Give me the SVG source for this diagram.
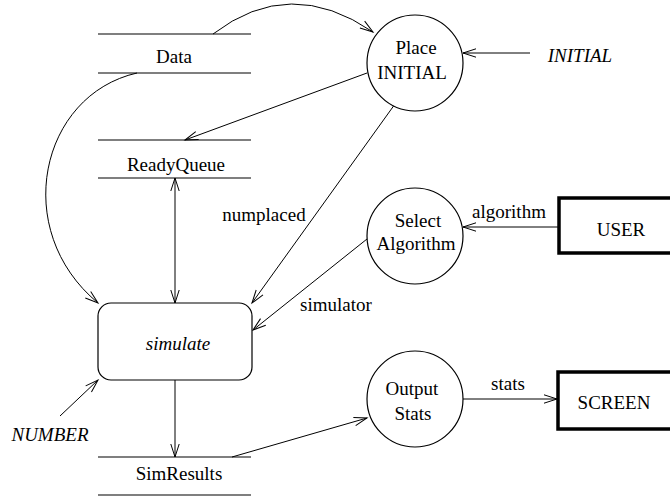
<svg xmlns="http://www.w3.org/2000/svg" width="670" height="498" viewBox="0 0 670 498">
<defs>
<marker id="arr" markerUnits="userSpaceOnUse" markerWidth="16" markerHeight="12" viewBox="-14 -6 16 12" refX="0" refY="0" orient="auto-start-reverse">
<path d="M-13,-4.2 L0,0 L-13,4.2" fill="none" stroke="#000" stroke-width="1"/>
</marker>
<style>
.t{font-family:"Liberation Serif","Times New Roman",serif;font-size:19px;fill:#000;text-anchor:middle}
.i{font-style:italic}
.ln{stroke:#000;stroke-width:1.2;fill:none}
.c{stroke:#000;stroke-width:1.2;fill:#fff}
.ext{stroke:#000;stroke-width:3.5;fill:#fff}
.e{stroke:#000;stroke-width:1;fill:none;marker-end:url(#arr)}
</style>
</defs>
<rect width="670" height="498" fill="#fff"/>
<g id="connectors">
<path class="e" d="M213,34 Q290,-25 373,32"/>
<path class="e" d="M137,73 C40,95 10,230 98,303"/>
<path class="e" d="M367,73 L185,140"/>
<path class="e" d="M395,104 L252,303"/>
<path class="e" d="M175,178 L175,303" marker-start="url(#arr)"/>
<path class="e" d="M367,239 L253,330"/>
<path class="e" d="M530,53 L463,53"/>
<path class="e" d="M558,227 L463,227"/>
<path class="e" d="M60,416 L98,380"/>
<path class="e" d="M175,380 L175,457"/>
<path class="e" d="M232,457 L367,418"/>
<path class="e" d="M463,399 L557,399"/>
<text class="t" x="264" y="221">numplaced</text>
<text class="t" x="336" y="311">simulator</text>
<text class="t" x="509" y="218">algorithm</text>
<text class="t" x="508" y="390">stats</text>
</g>
<g id="data">
<line class="ln" x1="98" y1="34" x2="251" y2="34"/>
<line class="ln" x1="98" y1="73" x2="251" y2="73"/>
<text class="t" x="174" y="63">Data</text>
</g>
<g id="readyqueue">
<line class="ln" x1="98" y1="140" x2="251" y2="140"/>
<line class="ln" x1="98" y1="178" x2="251" y2="178"/>
<text class="t" x="176" y="171">ReadyQueue</text>
</g>
<g id="simresults">
<line class="ln" x1="98" y1="457" x2="251" y2="457"/>
<line class="ln" x1="98" y1="495" x2="251" y2="495"/>
<text class="t" x="179" y="480">SimResults</text>
</g>
<g id="simulate">
<rect class="c" x="98" y="303" width="154" height="77" rx="13" ry="13"/>
<text class="t i" x="178" y="350">simulate</text>
</g>
<g id="place">
<circle class="c" cx="415" cy="63" r="48"/>
<text class="t" x="416" y="54">Place</text>
<text class="t" x="412" y="79">INITIAL</text>
</g>
<g id="select">
<circle class="c" cx="415" cy="236" r="48"/>
<text class="t" x="418" y="227">Select</text>
<text class="t" x="416" y="250">Algorithm</text>
</g>
<g id="output">
<circle class="c" cx="415" cy="399" r="48"/>
<text class="t" x="412" y="395">Output</text>
<text class="t" x="413" y="420">Stats</text>
</g>
<g id="user">
<rect class="ext" x="559" y="198" width="115" height="55"/>
<text class="t" x="621" y="236">USER</text>
</g>
<g id="screen">
<rect class="ext" x="558" y="372" width="116" height="57"/>
<text class="t" x="614" y="409">SCREEN</text>
</g>
<g id="initial">
<text class="t i" x="580" y="62">INITIAL</text>
</g>
<g id="number">
<text class="t i" x="50" y="441">NUMBER</text>
</g>
</svg>
